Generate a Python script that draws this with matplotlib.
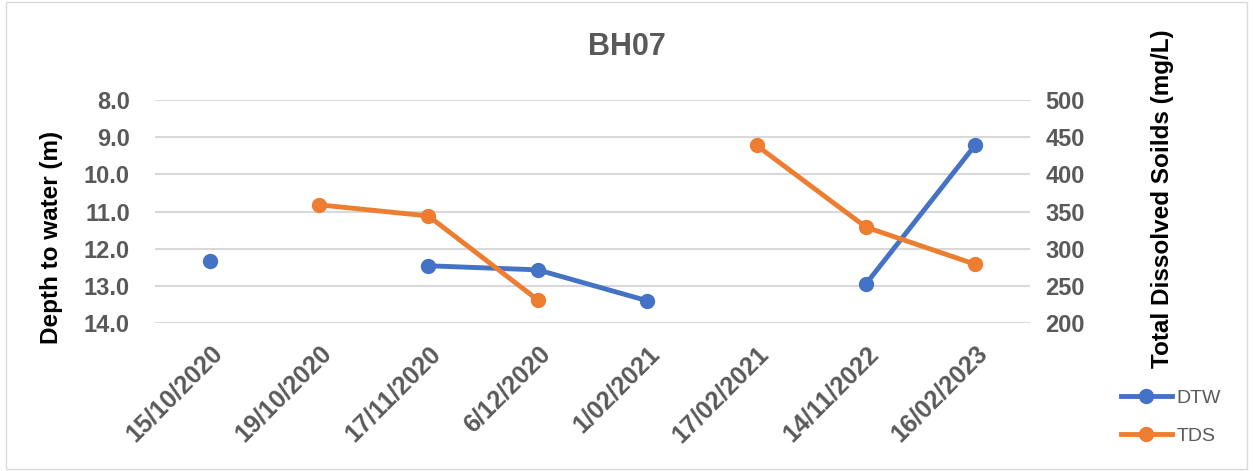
import matplotlib.pyplot as plt
import numpy as np
from matplotlib.patches import Rectangle

dates = ['15/10/2020', '19/10/2020', '17/11/2020', '6/12/2020',
         '1/02/2021', '17/02/2021', '14/11/2022', '16/02/2023']
dtw = [12.33, np.nan, 12.46, 12.57, 13.4, np.nan, 12.95, 9.21]
tds = [np.nan, 359, 344, 231, np.nan, 439, 329, 279]

blue = '#4472C4'
orange = '#ED7D31'
grey = '#595959'

plt.rcParams['font.family'] = ['Liberation Sans', 'DejaVu Sans']

fig = plt.figure(figsize=(12.53, 4.71), dpi=100)
ax = fig.add_axes([0.1237, 0.3142, 0.6983, 0.4735])
ax2 = ax.twinx()

x = np.arange(len(dates))
l1, = ax.plot(x, dtw, color=blue, lw=3.5, marker='o', ms=10, label='DTW')
l2, = ax2.plot(x, tds, color=orange, lw=3.5, marker='o', ms=10, label='TDS')

ax.set_xlim(-0.5, len(dates) - 0.5)
ax.set_ylim(14, 8)
ax.set_yticks(np.arange(8, 15, 1))
ax.set_yticklabels(['%.1f' % v for v in np.arange(8, 15, 1)])
ax2.set_ylim(200, 500)
ax2.set_yticks(np.arange(200, 501, 50))

ax.set_xticks(x)
ax.set_xticklabels(dates, rotation=45, ha='right', rotation_mode='anchor')
ax.grid(axis='y', color='#D9D9D9', lw=1.5)
ax.set_axisbelow(True)

for a in (ax, ax2):
    for s in a.spines.values():
        s.set_visible(False)
    a.tick_params(length=0, labelsize=17, labelcolor=grey)
    for lab in a.get_xticklabels() + a.get_yticklabels():
        lab.set_fontweight('bold')
ax.tick_params(axis='x', labelsize=18, pad=13)
ax.tick_params(axis='y', pad=18)
ax2.tick_params(axis='y', pad=11)

fig.text(52 / 1253, 1 - 237 / 471, 'Depth to water (m)', rotation=90, ha='center', va='center',
         fontsize=17.5, fontweight='bold', color='black')
fig.text(1163 / 1253, 1 - 199 / 471, 'Total Dissolved Soilds (mg/L)', rotation=90, ha='center',
         va='center', fontsize=17.5, fontweight='bold', color='black')
fig.text(0.5, 1 - 47 / 471, 'BH07', ha='center', va='center', fontsize=22, fontweight='bold', color=grey)

fig.legend([l1, l2], ['DTW', 'TDS'], loc='center left', bbox_to_anchor=(1121 / 1253, 1 - 417 / 471),
           frameon=False, fontsize=14, labelcolor=grey, handlelength=2.6,
           labelspacing=1.05, handletextpad=0.25, borderaxespad=0, borderpad=0)

fig.patches.append(Rectangle((0.005, 0.005), 0.99, 0.99, transform=fig.transFigure,
                             fill=False, edgecolor='#D9D9D9', lw=1))

fig.savefig('out.png', dpi=100)
